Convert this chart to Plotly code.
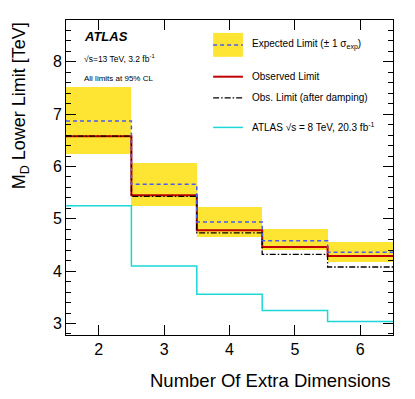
import plotly.graph_objects as go

# number of extra dimensions (bin centres)
n_dims = [2, 3, 4, 5, 6]

# lower limits on M_D [TeV]
expected = [6.87, 5.66, 4.94, 4.58, 4.36]
band_lo = [6.24, 5.24, 4.65, 4.40, 4.18]
band_hi = [7.52, 6.06, 5.22, 4.80, 4.55]
observed = [6.58, 5.45, 4.78, 4.46, 4.29]
damped = [6.58, 5.43, 4.73, 4.32, 4.08]
atlas_8tev = [5.25, 4.10, 3.56, 3.25, 3.04]

FONT = "Liberation Sans, Arial, sans-serif"
YELLOW = "#ffe533"
BLUE_DASH = "4px,3px"
DASHDOT = "6px,2px,1.5px,2px"


def step_xy(vals):
    # histogram-style step outline over unit-wide bins
    xs = [n - 0.5 for n in n_dims] + [n_dims[-1] + 0.5]
    ys = list(vals) + [vals[-1]]
    return xs, ys


fig = go.Figure()

fig.add_trace(go.Bar(
    x=n_dims, y=[h - l for h, l in zip(band_hi, band_lo)], base=band_lo,
    width=1, marker=dict(color=YELLOW, line_width=0), showlegend=False,
))

x, y = step_xy(atlas_8tev)
fig.add_trace(go.Scatter(x=x, y=y, mode="lines", line_shape="hv",
                         line=dict(color="#1ad8d8", width=1.5), showlegend=False))

x, y = step_xy(observed)
fig.add_trace(go.Scatter(x=x, y=y, mode="lines", line_shape="hv",
                         line=dict(color="#c00000", width=2), showlegend=False))

x, y = step_xy(damped)
fig.add_trace(go.Scatter(x=x, y=y, mode="lines", line_shape="hv",
                         line=dict(color="black", width=1.3, dash=DASHDOT),
                         showlegend=False))

x, y = step_xy(expected)
fig.add_trace(go.Scatter(x=x, y=y, mode="lines", line_shape="hv",
                         line=dict(color="#4a5cf0", width=1.5, dash=BLUE_DASH),
                         showlegend=False))

axis_common = dict(
    showgrid=False, zeroline=False, showline=True, linecolor="black",
    linewidth=1, mirror="allticks", ticks="inside", tickcolor="black",
    tickfont=dict(family=FONT, size=16, color="black"),
)
fig.update_xaxes(range=[1.5, 6.5], tickvals=n_dims, ticklen=10, **axis_common)
fig.update_yaxes(range=[2.78, 8.8], dtick=1, ticklen=10,
                 minor=dict(dtick=0.2, ticks="inside", ticklen=5, tickcolor="black"),
                 **axis_common)

# legend drawn by hand, ROOT style
shapes = [
    dict(type="rect", xref="paper", yref="paper", x0=0.45, x1=0.541,
         y0=0.883, y1=0.959, fillcolor=YELLOW, line_width=0),
    dict(type="line", xref="paper", yref="paper", x0=0.45, x1=0.541,
         y0=0.921, y1=0.921, line=dict(color="#4a5cf0", width=1.5, dash=BLUE_DASH)),
    dict(type="line", xref="paper", yref="paper", x0=0.45, x1=0.541,
         y0=0.82, y1=0.82, line=dict(color="#c00000", width=2)),
    dict(type="line", xref="paper", yref="paper", x0=0.45, x1=0.541,
         y0=0.753, y1=0.753, line=dict(color="black", width=1.3, dash=DASHDOT)),
    dict(type="line", xref="paper", yref="paper", x0=0.45, x1=0.541,
         y0=0.659, y1=0.659, line=dict(color="#1ad8d8", width=1.5)),
]
fig.update_layout(shapes=shapes)

legend_text = [
    ("Expected Limit (± 1 σ<sub>exp</sub>)", 0.921),
    ("Observed Limit", 0.82),
    ("Obs. Limit (after damping)", 0.753),
    ("ATLAS √s = 8 TeV, 20.3 fb<sup>-1</sup>", 0.659),
]
for txt, yy in legend_text:
    fig.add_annotation(text=txt, xref="paper", yref="paper", x=0.563, y=yy,
                       xanchor="left", yanchor="middle", showarrow=False,
                       font=dict(family=FONT, size=10, color="black"))

fig.add_annotation(text="<b><i>ATLAS</i></b>", xref="paper", yref="paper",
                   x=0.05, y=0.947, xanchor="left", yanchor="middle",
                   showarrow=False, font=dict(family=FONT, size=13, color="black"))
fig.add_annotation(text="√s=13 TeV, 3.2 fb<sup>-1</sup>", xref="paper", yref="paper",
                   x=0.05, y=0.879, xanchor="left", yanchor="middle",
                   showarrow=False, font=dict(family=FONT, size=8.5, color="black"))
fig.add_annotation(text="All limits at 95% CL", xref="paper", yref="paper",
                   x=0.05, y=0.813, xanchor="left", yanchor="middle",
                   showarrow=False, font=dict(family=FONT, size=8, color="black"))

# axis titles, right/top aligned as in ROOT
fig.add_annotation(text="Number Of Extra Dimensions", xref="paper", yref="paper",
                   x=1.0, y=-0.146, xanchor="right", yanchor="middle",
                   showarrow=False, font=dict(family=FONT, size=18.5, color="black"))
fig.add_annotation(text="M<sub>D</sub> Lower Limit [TeV]", xref="paper", yref="paper",
                   x=-0.138, y=1.0, xanchor="center", yanchor="top", textangle=-90,
                   showarrow=False, font=dict(family=FONT, size=18, color="black"))

# the page body adds an 8px offset, so the figure is shrunk to fit the window
fig.update_layout(
    width=407, height=391,
    margin=dict(l=58, r=22, t=12, b=64),
    paper_bgcolor="white", plot_bgcolor="white",
    bargap=0, showlegend=False,
)

fig.write_html("out.html")
